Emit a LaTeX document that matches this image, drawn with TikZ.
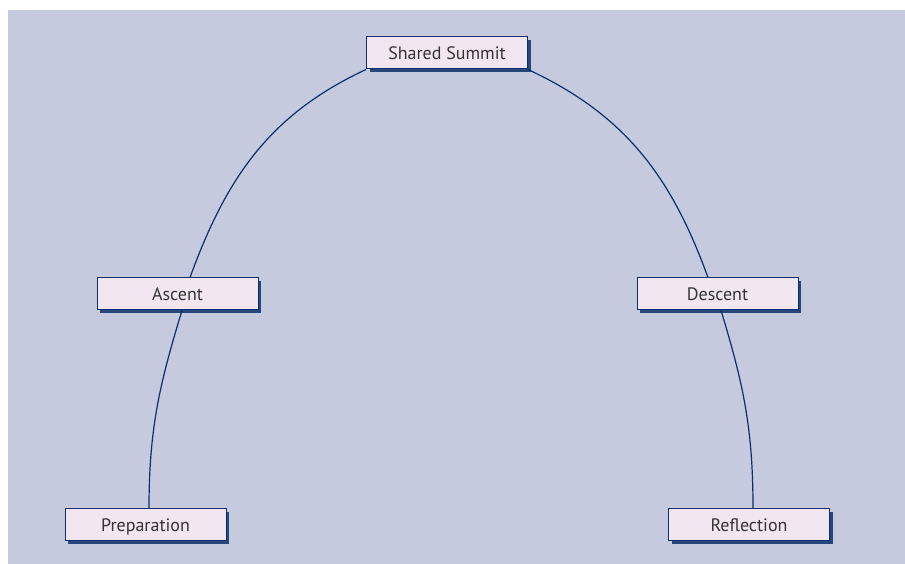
\documentclass[tikz,border=0pt]{standalone}
\usepackage{fontspec}
\setmainfont{PT Sans}
\usepackage{xcolor}
\definecolor{skybg}{RGB}{197,202,222}
\definecolor{boxfill}{RGB}{242,230,240}
\definecolor{navy}{HTML}{0B2F6B}
\definecolor{inkgray}{HTML}{333333}
\usetikzlibrary{shadows,positioning}
\tikzset{
  stage/.style={rectangle, draw=navy, line width=1pt, fill=boxfill,
    text=inkgray, font=\fontsize{18}{21}\selectfont, align=center,
    minimum width=161pt, minimum height=32pt, inner sep=3pt,
    text height=14pt, text depth=1pt,
    drop shadow={shadow xshift=3pt, shadow yshift=-3pt, fill=navy, opacity=.85}},
  trail/.style={navy, line width=1.2pt}
}

\begin{document}
\begin{tikzpicture}[x=1pt,y=1pt]
        \useasboundingbox (0,0) rectangle (905,564);
        \fill[skybg] (8,0) rectangle (905,554);
        \node[stage] (a) at (447,511) {Shared Summit};
        \node[stage] (b) at (177.5,270) {Ascent};
        \node[stage] (c) at (145.5,39) {Preparation};
        \node[stage] (d) at (717.5,270) {Descent};
        \node[stage] (e) at (749,39) {Reflection};
        \draw[trail] (a.south west) to[out=205, in=70] ([xshift=12.5pt]b.north);
        \draw[trail] ([xshift=4.5pt]b.south) to[out=253, in=90] ([xshift=3.5pt]c.north);
        \draw[trail] (a.south east) to[out=335, in=110] ([xshift=-9.5pt]d.north);
        \draw[trail] ([xshift=3.5pt]d.south) to[out=287, in=90] ([xshift=4pt]e.north);
      \end{tikzpicture}
\end{document}
